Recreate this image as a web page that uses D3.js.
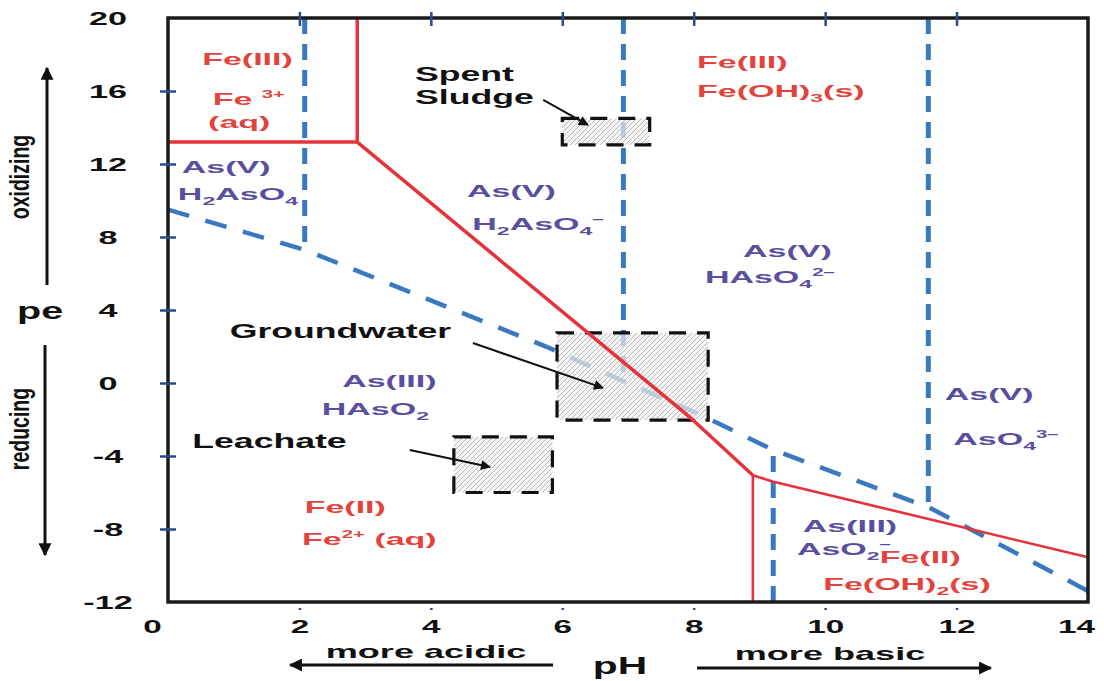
<!DOCTYPE html>
<html>
<head>
<meta charset="utf-8">
<title>pe-pH diagram: Fe and As</title>
<script src="https://cdn.jsdelivr.net/npm/d3@7"></script>
<style>
  body { margin: 0; background: #fff; }
  svg text { font-family: "Liberation Sans", Arial, Helvetica, sans-serif; font-weight: bold; }
</style>
</head>
<body>
<script>
// tick values
var phTicks = [0, 2, 4, 6, 8, 10, 12, 14];
var peTicks = [20, 16, 12, 8, 4, 0, -4, -8, -12];

// iron boundaries, [pH, pe]
var fe3Floor = [[0, 13.2], [2.88, 13.2]];
var fe3Wall = [[2.88, 20], [2.88, 13.2]];
var fe2Upper = [[2.88, 13.2], [7.95, -1.9], [8.9, -5.05]];
var fe2Solid = [[8.9, -5.05], [9.2, -5.4], [14, -9.55]];
var fe2Wall = [[8.9, -5.05], [8.9, -12]];

// arsenic boundaries, [pH, pe]
var asRedox = [[0, 9.5], [2.08, 7.3], [5.77, 1.97], [6.93, 0.1], [8.14, -1.8], [9.21, -3.67], [11.57, -6.8], [13.77, -10.96], [14, -11.4]];
var asAcid1 = [[2.08, 20], [2.08, 7.3]];
var asAcid2 = [[6.93, 20], [6.93, 0.1]];
var asAcid3 = [[11.57, 20], [11.57, -6.8]];
var asAcidIII = [[9.21, -12], [9.21, -3.67]];

// sample fields
var sampleNames = ["Spent Sludge", "Groundwater", "Leachate"];
var samplePH = [[6.0, 7.33], [5.92, 8.22], [4.35, 5.85]];
var samplePE = [[13.05, 14.5], [-2.03, 2.75], [-6.0, -2.95]];

// label text with its anchor point [pH, pe]
var feLabels = [
  ["Fe(III)", 0.52, 17.42], ["Fe ^{3+}", 0.68, 15.23], ["(aq)", 0.61, 13.97],
  ["Fe(III)", 8.05, 17.26], ["Fe(OH)_{3}(s)", 8.05, 15.67],
  ["Fe(II)", 2.08, -7.12], ["Fe^{2+} (aq)", 2.04, -8.88],
  ["Fe(II)", 10.83, -9.86], ["Fe(OH)_{2}(s)", 9.97, -11.34]
];
var asLabels = [
  ["As(V)", 0.21, 11.51], ["H_{2}AsO_{4}", 0.15, 10.03],
  ["As(V)", 4.55, 10.19], ["H_{2}AsO_{4}^{\u2212}", 4.63, 8.38],
  ["As(V)", 8.75, 6.9], ["HAsO_{4}^{2\u2212}", 8.17, 5.48],
  ["As(III)", 2.65, -0.22], ["HAsO_{2}", 2.34, -1.75],
  ["As(V)", 11.82, -0.93], ["AsO_{4}^{3\u2212}", 11.95, -3.4],
  ["As(III)", 9.66, -8.16], ["AsO_{2}^{\u2212}", 9.57, -9.42]
];
var sampleLabels = [
  ["Spent", 3.76, 16.55], ["Sludge", 3.76, 15.3],
  ["Groundwater", 0.94, 2.47], ["Leachate", 0.37, -3.56]
];
var pointers = [
  [[5.71, 15.51], [6.39, 14.14]],
  [[4.64, 2.19], [6.62, -0.27]],
  [[3.68, -3.67], [4.9, -4.6]]
];

var width = 1104, height = 681;
var x = d3.scaleLinear().domain([0, 14]).range([168, 1088]);
var y = d3.scaleLinear().domain([-12, 20]).range([602, 18]);

var svg = d3.select("body").append("svg")
    .attr("width", width)
    .attr("height", height);

svg.append("rect").attr("width", width).attr("height", height).attr("fill", "#fff");

var defs = svg.append("defs");

var hatch = defs.append("pattern")
    .attr("id", "hatch")
    .attr("patternUnits", "userSpaceOnUse")
    .attr("width", 5).attr("height", 5);
hatch.append("path")
    .attr("d", "M-1,1 l2,-2 M0,5 l5,-5 M4,6 l2,-2")
    .attr("stroke", "#b4b4b4")
    .attr("stroke-width", 0.9);

function marker(id, w, h) {
  defs.append("marker")
      .attr("id", id)
      .attr("viewBox", "0 0 10 10")
      .attr("refX", 9).attr("refY", 5)
      .attr("markerWidth", w).attr("markerHeight", h)
      .attr("markerUnits", "userSpaceOnUse")
      .attr("orient", "auto")
    .append("path")
      .attr("d", "M0,0L10,5L0,10Z")
      .attr("fill", "#111");
}
marker("head", 13, 10);
marker("bighead", 15, 13);

var line = d3.line()
    .x(function(d) { return x(d[0]); })
    .y(function(d) { return y(d[1]); });

// ****** arsenic boundaries (blue dashed) ******
var blue = "#3b78c2";
svg.append("path").attr("d", line(asRedox))
    .attr("fill", "none").attr("stroke", blue)
    .attr("stroke-width", 4.5).attr("stroke-dasharray", "22,17");
[asAcid1, asAcid2, asAcid3, asAcidIII].forEach(function(seg) {
  svg.append("path").attr("d", line(seg))
      .attr("fill", "none").attr("stroke", blue)
      .attr("stroke-width", 5).attr("stroke-dasharray", "16,10");
});

// ****** sample fields: fill ******
var boxes = svg.append("g");
sampleNames.forEach(function(name, i) {
  var bx = x(samplePH[i][0]), bw = x(samplePH[i][1]) - bx;
  var by = y(samplePE[i][1]), bh = y(samplePE[i][0]) - by;
  boxes.append("rect").attr("x", bx).attr("y", by).attr("width", bw).attr("height", bh)
      .attr("fill", "#f1f1f1").attr("fill-opacity", 0.72);
  boxes.append("rect").attr("x", bx).attr("y", by).attr("width", bw).attr("height", bh)
      .attr("fill", "url(#hatch)");
});

// ****** iron boundaries (red) ******
var red = "#e5323b";
[[fe3Floor, 3.5], [fe3Wall, 3.5], [fe2Upper, 3.5], [fe2Solid, 2.6], [fe2Wall, 2.6]].forEach(function(s) {
  svg.append("path").attr("d", line(s[0]))
      .attr("fill", "none").attr("stroke", red)
      .attr("stroke-width", s[1]).attr("stroke-linejoin", "round");
});

// ****** sample fields: outline ******
sampleNames.forEach(function(name, i) {
  var bx = x(samplePH[i][0]), bw = x(samplePH[i][1]) - bx;
  var by = y(samplePE[i][1]), bh = y(samplePE[i][0]) - by;
  boxes.append("rect").attr("x", bx).attr("y", by).attr("width", bw).attr("height", bh)
      .attr("fill", "none").attr("stroke", "#111")
      .attr("stroke-width", 3.2).attr("stroke-dasharray", "17,11");
});

// ****** frame and axes ******
svg.append("rect")
    .attr("x", x(0)).attr("y", y(20))
    .attr("width", x(14) - x(0)).attr("height", y(-12) - y(20))
    .attr("fill", "none").attr("stroke", "#1b1b1b").attr("stroke-width", 3.5);

var tickBlue = "#2c4a8a";
function fmt(d) { return String(d); }

function styleTicks(g, cross, ends) {
  g.select(".domain").remove();
  g.selectAll(".tick line")
      .attr("stroke", tickBlue).attr("stroke-width", 2.5)
      .each(function(d) {
        if (ends.indexOf(d) >= 0) d3.select(this).remove();
        else d3.select(this).attr(cross, 8);
      });
  g.selectAll(".tick text").attr("font-size", null);
}

var gLeft = svg.append("g").attr("transform", "translate(" + x(0) + ",0)")
    .call(d3.axisLeft(y).tickValues(peTicks).tickSize(8).tickFormat(fmt))
    .call(styleTicks, "x1", [20, -12]);
gLeft.attr("font-size", null).attr("font-family", null);
gLeft.selectAll(".tick text")
    .attr("x", 0).attr("dy", null)
    .attr("text-anchor", "middle")
    .attr("fill", "#111")
    .style("font-size", "18px")
    .attr("transform", "translate(-60,6) scale(1.9,1)");

svg.append("g").attr("transform", "translate(" + x(14) + ",0)")
    .call(d3.axisRight(y).tickValues(peTicks).tickSize(8).tickFormat(""))
    .call(styleTicks, "x1", [20, -12]);

// the outer labels sit a little inside the corners
function xShift(d) { return d === 0 ? -16 : (d === 14 ? -12 : 0); }

var gBottom = svg.append("g").attr("transform", "translate(0," + y(-12) + ")")
    .call(d3.axisBottom(x).tickValues(phTicks).tickSize(6).tickFormat(fmt))
    .call(styleTicks, "y1", [0, 14]);
gBottom.attr("font-size", null).attr("font-family", null);
gBottom.selectAll(".tick text")
    .attr("y", 31).attr("dy", null)
    .attr("fill", "#111")
    .style("font-size", "18px")
    .attr("transform", function(d) { return "translate(" + xShift(d) + ",0) scale(1.85,1)"; });

svg.append("g").attr("transform", "translate(0," + y(20) + ")")
    .call(d3.axisTop(x).tickValues(phTicks).tickSize(6).tickFormat(""))
    .call(styleTicks, "y1", [0, 14]);

// ****** labels ******
// "_{..}" is a subscript, "^{..}" a superscript
function richText(g, str, px, py, size, sx, color) {
  var t = g.append("text")
      .attr("transform", "translate(" + px + "," + py + ") scale(" + sx + ",1)")
      .attr("fill", color)
      .style("font-size", size + "px");
  var re = /(_|\^)\{([^}]*)\}|[^_^]+/g, m, shift = 0;
  while ((m = re.exec(str)) !== null) {
    var target = 0, txt = m[0], fs = size;
    if (m[1] === "_") { target = 0.28 * size; txt = m[2]; fs = size * 0.68; }
    if (m[1] === "^") { target = -0.42 * size; txt = m[2]; fs = size * 0.6; }
    t.append("tspan")
        .attr("dy", target - shift)
        .style("font-size", fs + "px")
        .text(txt);
    shift = target;
  }
  return t;
}

var labels = svg.append("g");
feLabels.forEach(function(d) {
  richText(labels, d[0], x(d[1]), y(d[2]), 17, 2.0, "#e2443d");
});
asLabels.forEach(function(d) {
  richText(labels, d[0], x(d[1]), y(d[2]), 17, 2.0, "#5a4f9f");
});
sampleLabels.forEach(function(d) {
  richText(labels, d[0], x(d[1]), y(d[2]), 20, 1.78, "#111");
});

pointers.forEach(function(p) {
  svg.append("line")
      .attr("x1", x(p[0][0])).attr("y1", y(p[0][1]))
      .attr("x2", x(p[1][0])).attr("y2", y(p[1][1]))
      .attr("stroke", "#111").attr("stroke-width", 2)
      .attr("marker-end", "url(#head)");
});

// ****** axis titles ******
richText(svg, "pe", 17, 319, 24, 1.65, "#111");
richText(svg, "pH", 620, 674, 24, 1.7, "#111").attr("text-anchor", "middle");

function sideWord(word, cy) {
  svg.append("text")
      .attr("transform", "translate(29," + cy + ") scale(1.4,1) rotate(-90)")
      .attr("text-anchor", "middle")
      .attr("fill", "#111")
      .style("font-size", "19.5px")
      .text(word);
}
sideWord("oxidizing", 177);
sideWord("reducing", 429);

function bigArrow(x1, y1, x2, y2) {
  svg.append("line")
      .attr("x1", x1).attr("y1", y1).attr("x2", x2).attr("y2", y2)
      .attr("stroke", "#111").attr("stroke-width", 3)
      .attr("marker-end", "url(#bighead)");
}
bigArrow(47, y(5.37), 47, y(17.26));
bigArrow(45, y(2.08), 45, y(-9.42));
bigArrow(x(5.86), 665, x(1.86), 665);
bigArrow(x(8.05), 668, x(12.52), 668);

richText(svg, "more acidic", 426, 658, 19, 1.9, "#111").attr("text-anchor", "middle");
richText(svg, "more basic", 830, 660, 19, 1.9, "#111").attr("text-anchor", "middle");
</script>
</body>
</html>
